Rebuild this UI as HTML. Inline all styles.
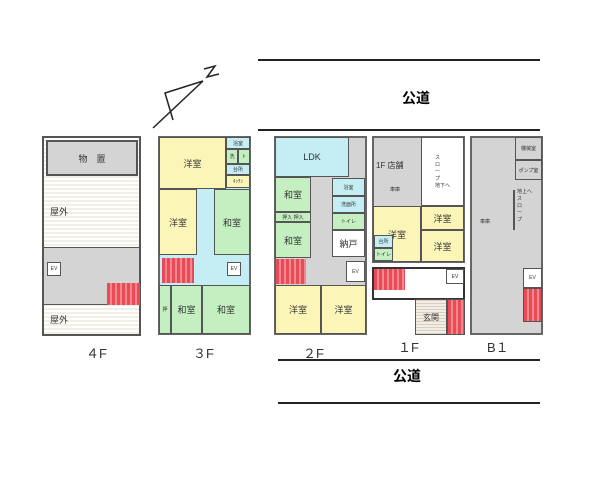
<!DOCTYPE html>
<html><head><meta charset="utf-8"><style>
body{margin:0;width:600px;height:483px;background:#fff;position:relative;overflow:hidden;font-family:"Liberation Sans","Noto Sans CJK JP",sans-serif}
div{position:absolute;box-sizing:border-box}
.b{border:1px solid #555}
.g{background:#d4d4d4}.y{background:#fbf6b8}.gr{background:#c4efc0}.c{background:#c4eef4}.w{background:#fff}
.r{background:repeating-linear-gradient(90deg,#e94a55 0 3px,#f08890 3px 5px)}
.st{background:repeating-linear-gradient(0deg,#f1efe6 0 2px,#fff 2px 4px)}
.t{font-size:9px;color:#333;display:flex;align-items:center;justify-content:center}
.s{font-size:5px;color:#333;display:flex;align-items:center;justify-content:center}
.lb{font-size:13px;color:#333}
.ln{background:#222;height:2px}
</style></head><body>
<div class="ln" style="left:258px;top:59px;width:282px"></div>
<div class="ln" style="left:258px;top:129px;width:282px"></div>
<div style="left:402px;top:88px;font-size:14px;font-weight:bold">公道</div>
<div class="ln" style="left:278px;top:359px;width:262px"></div>
<div class="ln" style="left:278px;top:402px;width:262px"></div>
<div style="left:393px;top:366px;font-size:14px;font-weight:bold">公道</div>
<svg style="position:absolute;left:0;top:0" width="600" height="483"><g stroke="#222" stroke-width="1.5" fill="none"><line x1="153" y1="128" x2="203" y2="81"/><polyline points="203,81 165,93 173,120"/><polyline points="204,69 215,66 207,77 219,74"/></g></svg>
<!-- 4F -->
<div class="b st" style="left:42px;top:136px;width:99px;height:200px;border:2px solid #555"></div>
<div class="b g t" style="left:46px;top:140px;width:92px;height:36px;border:2px solid #555">物　置</div>
<div class="t" style="left:50px;top:205px">屋外</div>
<div class="g" style="left:44px;top:247px;width:95px;height:58px;border-top:1px solid #555;border-bottom:1px solid #555"></div>
<div class="b w s" style="left:47px;top:262px;width:14px;height:14px">EV</div>
<div class="r" style="left:107px;top:283px;width:33px;height:22px"></div>
<div class="t" style="left:50px;top:313px">屋外</div>
<div class="lb" style="left:86px;top:343px">４F</div>
<!-- 3F -->
<div class="c" style="left:158px;top:136px;width:93px;height:199px;border:2px solid #666"></div>
<div class="b y t" style="left:159px;top:137px;width:67px;height:52px">洋室</div>
<div class="b c s" style="left:226px;top:137px;width:24px;height:12px">浴室</div>
<div class="b gr s" style="left:226px;top:149px;width:12px;height:15px">洗</div>
<div class="b gr s" style="left:238px;top:149px;width:12px;height:15px">ト</div>
<div class="b c s" style="left:226px;top:164px;width:24px;height:11px">台所</div>
<div class="b y s" style="left:226px;top:175px;width:24px;height:13px">ｷｯﾁﾝ</div>
<div class="b y t" style="left:159px;top:189px;width:38px;height:66px">洋室</div>
<div class="b gr t" style="left:214px;top:189px;width:36px;height:66px">和室</div>
<div class="r" style="left:162px;top:258px;width:32px;height:25px"></div>
<div class="b w s" style="left:227px;top:262px;width:14px;height:14px">EV</div>
<div class="b gr s" style="left:159px;top:285px;width:12px;height:49px">押</div>
<div class="b gr t" style="left:171px;top:285px;width:31px;height:49px">和室</div>
<div class="b gr t" style="left:202px;top:285px;width:48px;height:49px">和室</div>
<div class="lb" style="left:193px;top:343px">３F</div>
<!-- 2F -->
<div class="g" style="left:274px;top:136px;width:93px;height:199px;border:2px solid #666"></div>
<div class="b c t" style="left:275px;top:137px;width:74px;height:40px">LDK</div>
<div class="b gr t" style="left:275px;top:177px;width:36px;height:35px">和室</div>
<div class="b gr s" style="left:275px;top:212px;width:36px;height:10px">押入 押入</div>
<div class="b gr t" style="left:275px;top:222px;width:36px;height:36px">和室</div>
<div class="b c s" style="left:332px;top:178px;width:33px;height:18px">浴室</div>
<div class="b c s" style="left:332px;top:196px;width:33px;height:17px">洗面所</div>
<div class="b gr s" style="left:332px;top:213px;width:33px;height:17px">トイレ</div>
<div class="b w t" style="left:332px;top:230px;width:33px;height:27px">納戸</div>
<div class="r" style="left:276px;top:259px;width:30px;height:25px"></div>
<div class="b w s" style="left:346px;top:261px;width:19px;height:21px">EV</div>
<div class="b y t" style="left:275px;top:285px;width:46px;height:49px">洋室</div>
<div class="b y t" style="left:321px;top:285px;width:45px;height:49px">洋室</div>
<div class="lb" style="left:303px;top:343px">２F</div>
<!-- 1F -->
<div class="g" style="left:372px;top:136px;width:93px;height:127px;border:2px solid #666"></div>
<div class="t" style="left:376px;top:160px;font-size:8px">1F 店舗</div>
<div class="s" style="left:390px;top:186px">車庫</div>
<div class="b w s" style="left:421px;top:137px;width:43px;height:69px;flex-direction:column">ス<br>ロ<br>ー<br>プ<br>地下へ</div>
<div class="b y t" style="left:373px;top:206px;width:48px;height:56px">洋室</div>
<div class="b y t" style="left:421px;top:206px;width:43px;height:24px">洋室</div>
<div class="b y t" style="left:421px;top:230px;width:43px;height:32px">洋室</div>
<div class="b c s" style="left:374px;top:235px;width:19px;height:13px">台所</div>
<div class="b gr s" style="left:374px;top:248px;width:19px;height:13px">トイレ</div>
<div class="w" style="left:372px;top:267px;width:93px;height:33px;border:2px solid #333"></div>
<div class="r" style="left:374px;top:269px;width:31px;height:21px"></div>
<div class="b w s" style="left:446px;top:269px;width:18px;height:15px">EV</div>
<div class="b t" style="left:415px;top:299px;width:32px;height:36px;background:repeating-linear-gradient(0deg,#d8cfc0 0 1px,#f2eee6 1px 3px);font-size:8px">玄関</div>
<div class="r b" style="left:447px;top:299px;width:18px;height:36px"></div>
<div class="lb" style="left:398px;top:337px">１F</div>
<!-- B1 -->
<div class="g" style="left:470px;top:136px;width:73px;height:199px;border:2px solid #666"></div>
<div class="s" style="left:480px;top:218px">車庫</div>
<div class="b g s" style="left:515px;top:137px;width:27px;height:23px">機械室</div>
<div class="b g s" style="left:515px;top:160px;width:27px;height:20px">ポンプ室</div>
<div style="left:513px;top:190px;width:2px;height:40px;background:#555"></div>
<div class="s" style="left:517px;top:188px;flex-direction:column">地上へ<br>ス<br>ロ<br>ー<br>プ</div>
<div class="b w s" style="left:523px;top:268px;width:19px;height:20px">EV</div>
<div class="r b" style="left:523px;top:288px;width:19px;height:34px"></div>
<div class="lb" style="left:487px;top:337px">B１</div>
</body></html>
